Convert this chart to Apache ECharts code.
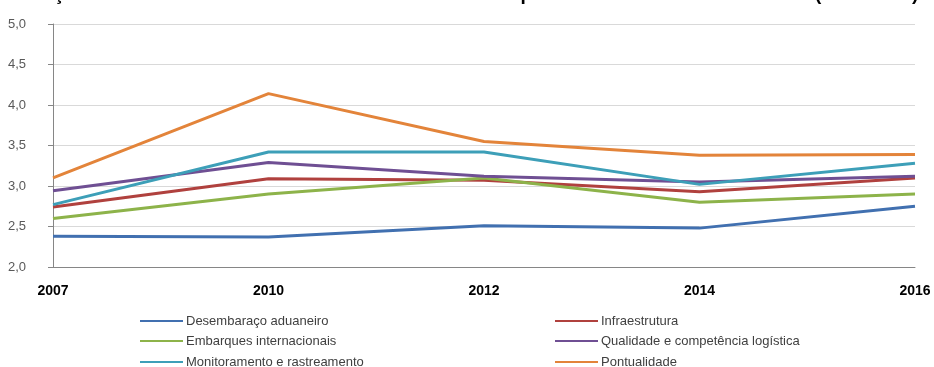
<!DOCTYPE html>
<html><head><meta charset="utf-8">
<script src="https://cdn.jsdelivr.net/npm/echarts@6/dist/echarts.min.js"></script>
<style>html,body{margin:0;padding:0;background:#fff}#c{width:934px;height:367px}</style>
</head><body><div id="c"></div>
<script>
const titleText = "Evolução dos indicadores brasileiros do índice de desempenho no LPI do Banco Mundial (2007-2016)";
const years = ["2007", "2010", "2012", "2014", "2016"];
const seriesNames = ["Desembaraço aduaneiro", "Infraestrutura", "Embarques internacionais", "Qualidade e competência logística", "Monitoramento e rastreamento", "Pontualidade"];
const desembaraco = [2.38, 2.37, 2.51, 2.48, 2.75];
const infraestrutura = [2.74, 3.09, 3.07, 2.93, 3.10];
const embarques = [2.60, 2.90, 3.10, 2.80, 2.90];
const qualidade = [2.94, 3.29, 3.12, 3.05, 3.12];
const monitoramento = [2.77, 3.42, 3.42, 3.02, 3.28];
const pontualidade = [3.10, 4.14, 3.55, 3.38, 3.39];
const colors = ["#4170b0", "#b0413e", "#8db34a", "#6f4f93", "#3d9fb8", "#e3843a"];
const values = [desembaraco, infraestrutura, embarques, qualidade, monitoramento, pontualidade];

const chart = echarts.init(document.getElementById('c'), null, {renderer: 'canvas'});
const legendPos = [[140, 314], [555, 314], [140, 334], [555, 334], [140, 355], [555, 355]];
const legends = seriesNames.map((n, i) => ({
  left: legendPos[i][0], top: legendPos[i][1], data: [n], padding: 0,
  itemWidth: 43, itemHeight: 2, icon: 'rect',
  textStyle: {fontFamily: 'Liberation Sans', fontSize: 13, color: '#404040', lineHeight: 14, padding: [0,0,0,-2]}
}));
chart.setOption({
  animation: false,
  color: colors,
  title: {text: titleText, left: -3, top: -20, textStyle: {fontFamily: 'Liberation Sans', fontSize: 19, fontWeight: 'bold', color: '#000'}},
  grid: {left: 53, right: 19, top: 24, bottom: 100, containLabel: false},
  legend: legends,
  xAxis: {
    type: 'category', data: years, boundaryGap: false,
    axisLine: {lineStyle: {color: '#868686', width: 1}},
    axisTick: {show: false},
    axisLabel: {fontFamily: 'Liberation Sans', fontSize: 14, fontWeight: 'bold', color: '#000', margin: 17}
  },
  yAxis: {
    type: 'value', min: 2, max: 5, interval: 0.5,
    axisLine: {show: true, lineStyle: {color: '#868686', width: 1}},
    axisTick: {show: true, length: 5, lineStyle: {color: '#868686'}},
    splitLine: {lineStyle: {color: '#d9d9d9', width: 1}},
    axisLabel: {fontFamily: 'Liberation Sans', fontSize: 13, color: '#595959', margin: 27,
      formatter: v => v.toFixed(1).replace('.', ',')}
  },
  series: seriesNames.map((n, i) => ({
    name: n, type: 'line', data: values[i], symbol: 'none', smooth: false,
    lineStyle: {width: 3, color: colors[i]}, itemStyle: {color: colors[i]}
  }))
});
</script></body></html>
